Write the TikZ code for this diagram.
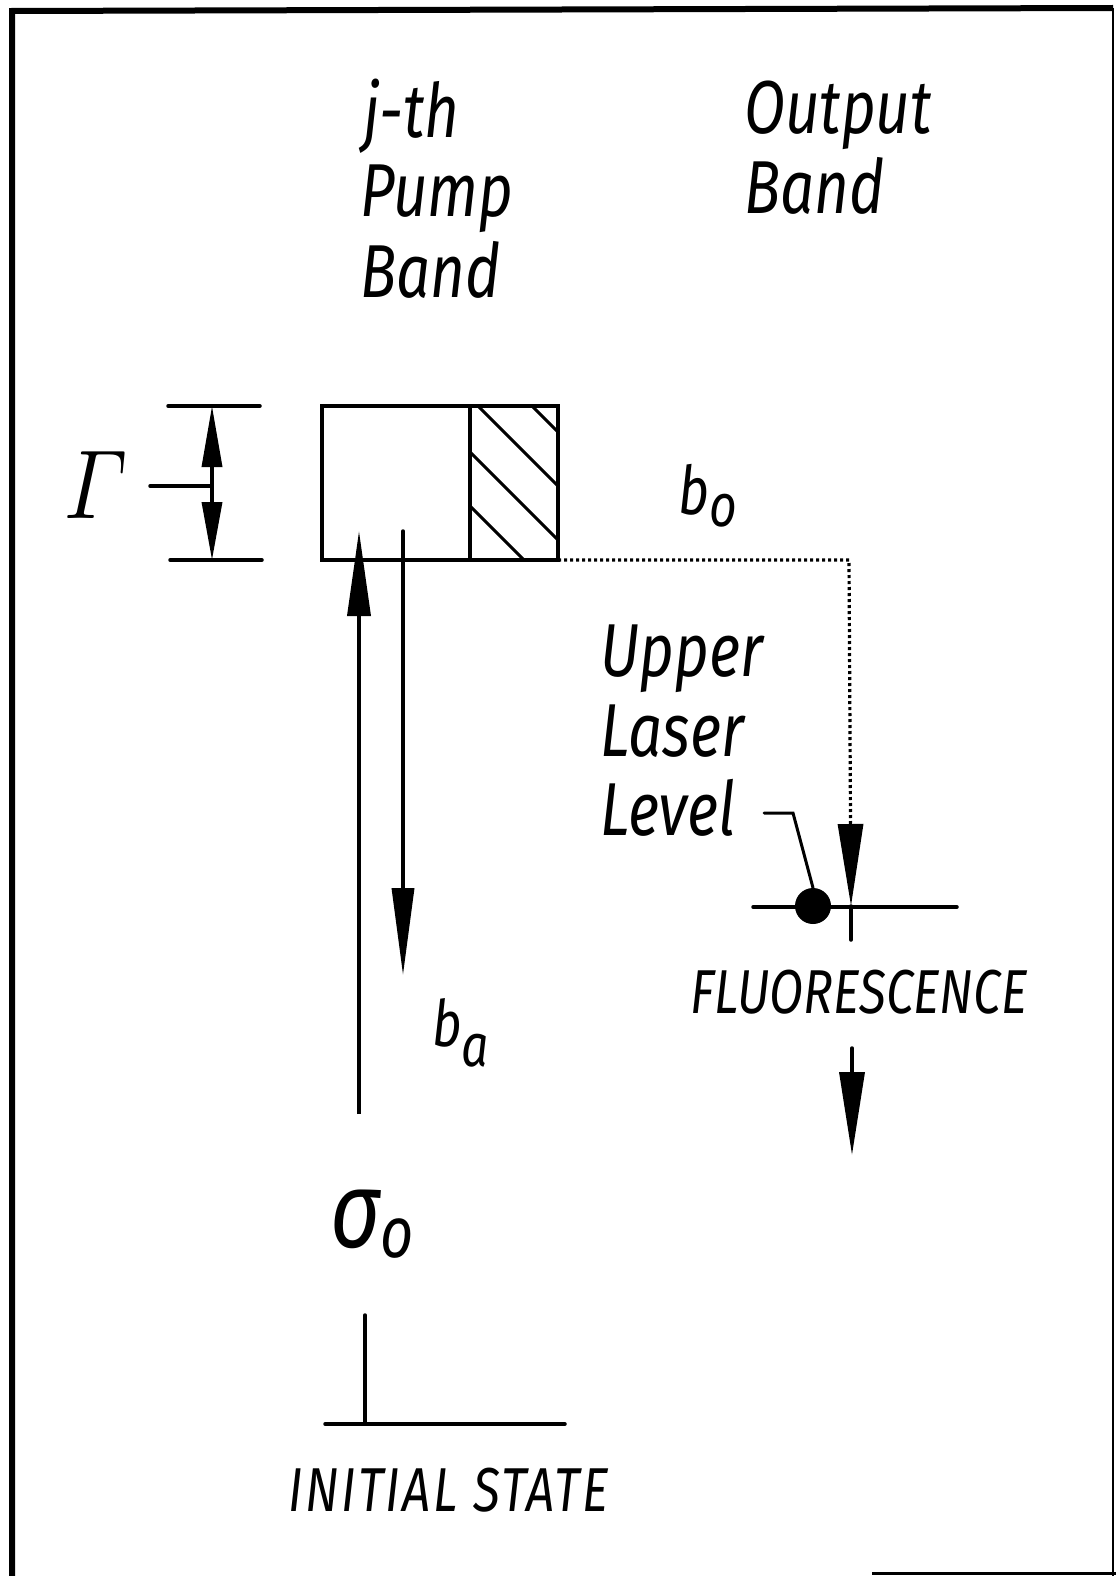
\documentclass[tikz,border=0pt]{standalone}
\usepackage{amsmath}
\usepackage{fontspec}
\usetikzlibrary{arrows.meta}
\newfontfamily\lett[FakeStretch=0.8]{Fira Sans}
\newcommand\fsz[1]{\lett\itshape\fontsize{#1}{#1}\selectfont}
\begin{document}
\begin{tikzpicture}[x=1pt,y=-1pt,
  lbl/.style={inner sep=0pt,anchor=base west},
  big/.style={lbl,font=\fsz{75}},
  caps/.style={lbl,font=\fsz{62}},
  ln/.style={line width=3.5pt,line cap=round},
  dots/.style={line width=3.2pt,dash pattern=on 3pt off 3pt}]
\useasboundingbox (0,0) rectangle (1116,1576);
% frame
\draw[line width=6pt] (12,1576) -- (12,11) -- (1113,8);
\draw[line width=1.5pt] (1113,8) -- (1113,1576);
\draw[line width=3pt] (872,1573) -- (1116,1573);
% headings
\node[big] (j1) at (363,138) {j-th};
\node[big] (j2) at (360,216) {Pump};
\node[big] (j3) at (360,297) {Band};
\node[big] (o1) at (744,134) {Output};
\node[big] (o2) at (744,213) {Band};
% pump band box
\coordinate (btl) at (322,406);
\coordinate (bbr) at (558,560);
\coordinate (bdt) at (470,406);
\coordinate (bdb) at (470,560);
\begin{scope}
  \clip (470,406) rectangle (558,560);
  \foreach \c in {126,72,18,-36}
    \draw[line width=3pt] (\c+406-40,406-40) -- (\c+406+200,406+200);
\end{scope}
\draw[line width=3.8pt] (btl) rectangle (bbr);
\draw[line width=3.8pt] (bdt) -- (bdb);
% Gamma width marker
\coordinate (gt1) at (168,406); \coordinate (gt2) at (260,406);
\coordinate (gb1) at (170,560); \coordinate (gb2) at (262,560);
\coordinate (gm) at (212,486); \coordinate (gl) at (150,486);
\coordinate (gtop) at (212,406); \coordinate (gbot) at (212,560);
\draw[ln] (gt1) -- (gt2);
\draw[ln] (gb1) -- (gb2);
\draw[ln] (gl) -- (gm);
\draw[line width=3.5pt,-{Triangle[length=61pt,width=20pt]}] (gm) -- (gtop);
\draw[line width=3.5pt,-{Triangle[length=58pt,width=20pt]}] (gm) -- (gbot);
\node[lbl] (gam) at (64,518) {\scalebox{8.4}[9.8]{$\varGamma$}};
% b_o
\node[lbl,font=\fsz{67}] (bo) at (678,514) {b\raisebox{-12pt}{\fsz{60}o}};
% absorption / decay arrows
\coordinate (ua0) at (359,1114); \coordinate (ua1) at (359,531);
\draw[line width=3.5pt,-{Triangle[length=85pt,width=23pt]}] (ua0) -- (ua1);
\coordinate (da0) at (403,531); \coordinate (da1) at (403,975);
\draw[ln,-{Triangle[length=87pt,width=22pt]}] (da0) -- (da1);
\node[lbl,font=\fsz{64}] (ba) at (432,1046) {b\raisebox{-20pt}{\fsz{60}a}};
\node[lbl,font=\fsz{108}] (sig) at (330,1247) {σ\raisebox{-10pt}{\fsz{72}o}};
% dotted transfer to upper laser level
\coordinate (ull) at (851,906);
\draw[dots,-{Triangle[length=82pt,width=25pt]}] (bbr) -- (849,560) -- (ull);
% upper laser level
\coordinate (l1) at (753,907); \coordinate (l2) at (957,907);
\draw[ln] (l1) -- (l2);
\draw[ln] (ull) -- (851,940);
\node[circle,fill=black,minimum size=36pt,inner sep=0pt] (dot) at (813,906) {};
\node[big] (u1) at (600,676) {Upper};
\node[big] (u2) at (600,756) {Laser};
\node[big] (u3) at (600,835) {Level};
\draw[line width=3pt,line cap=round] (764,813) -- (793,813) -- (dot.north);
% fluorescence
\node[caps] (fl) at (690,1013) {FLUORESCENCE};
\coordinate (fa0) at (852,1048); \coordinate (fa1) at (852,1155);
\draw[ln,-{Triangle[length=83pt,width=25pt]}] (fa0) -- (fa1);
% initial state
\coordinate (is0) at (365,1315); \coordinate (is1) at (365,1424);
\coordinate (isl) at (325,1424); \coordinate (isr) at (565,1424);
\draw[ln] (is0) -- (is1);
\draw[ln] (isl) -- (isr);
\node[caps] (ist) at (288,1511) {\addfontfeature{LetterSpace=4}INITIAL STATE};
\end{tikzpicture}
\end{document}
